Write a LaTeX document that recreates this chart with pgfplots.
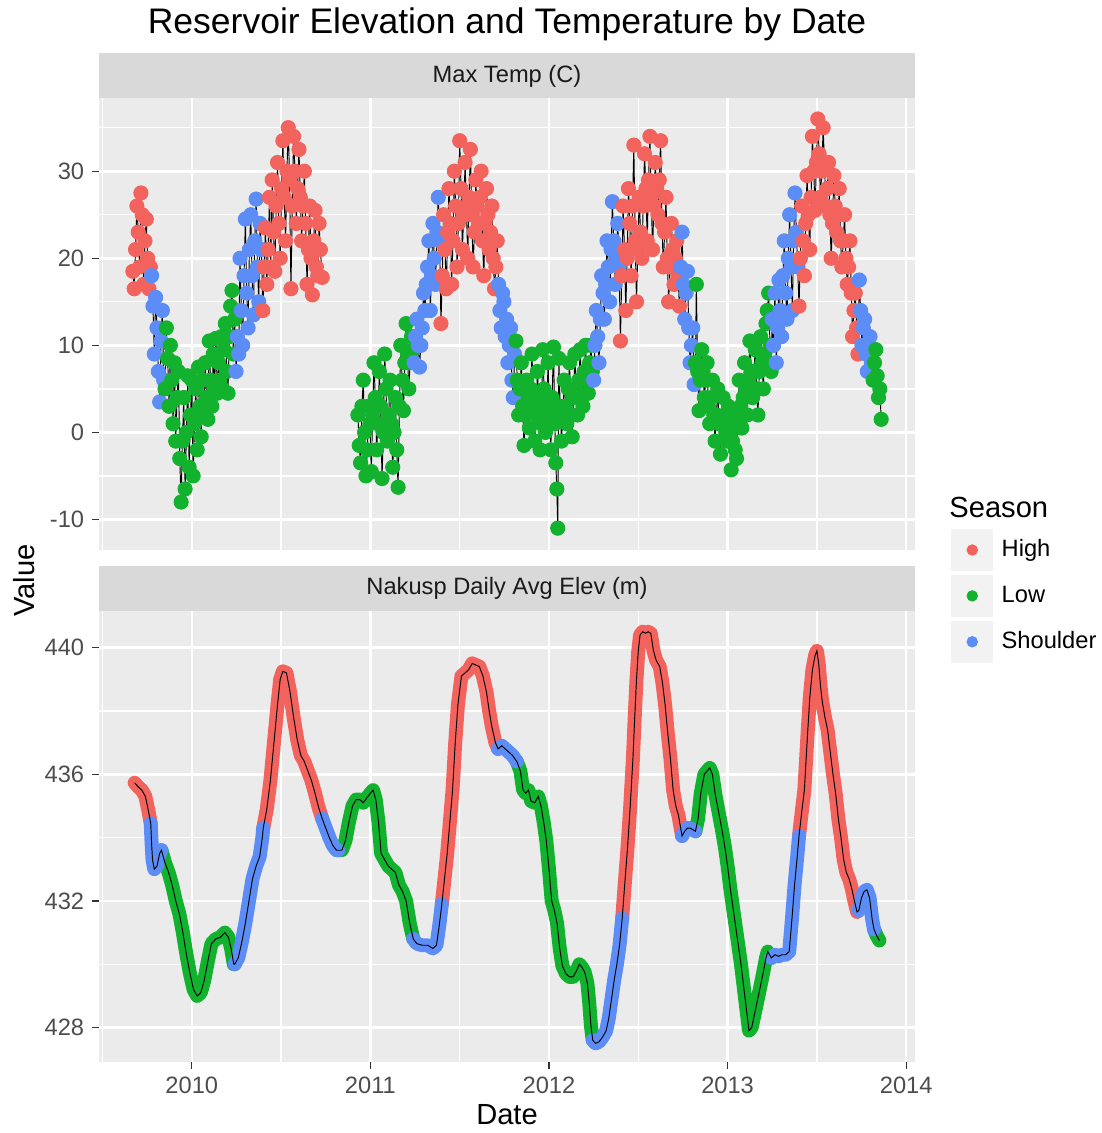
\documentclass[border=0pt]{standalone}
\usepackage{pgfplots}
\pgfplotsset{compat=1.18}
\usepackage{pgfplotstable}
\usepackage{fontspec}
\setmainfont{Liberation Sans}

\definecolor{ggred}{HTML}{F2635D}
\definecolor{gggreen}{HTML}{12B22E}
\definecolor{ggblue}{HTML}{5C8DF6}
\definecolor{panelbg}{HTML}{EBEBEB}
\definecolor{stripbg}{HTML}{D9D9D9}
\definecolor{keybg}{HTML}{F2F2F2}
\definecolor{gray30}{HTML}{4D4D4D}
\definecolor{gray20}{HTML}{333333}
\definecolor{gray10}{HTML}{1A1A1A}

% Max temperature (C): x = date (decimal year), y = value, s = season
\pgfplotstableread{
x y s
2009.6700 18.5 H
2009.6775 16.5 H
2009.6850 21 H
2009.6925 26 H
2009.7000 23 H
2009.7075 19 H
2009.7150 27.5 H
2009.7225 25 H
2009.7300 17 H
2009.7375 22 H
2009.7450 24.5 H
2009.7525 20 H
2009.7600 16.5 H
2009.7675 19 H
2009.7750 18 S
2009.7825 14.5 S
2009.7900 9 S
2009.7975 15.5 S
2009.8050 12 S
2009.8125 7 S
2009.8200 3.5 S
2009.8275 10.5 S
2009.8350 14 S
2009.8425 6 S
2009.8500 5 L
2009.8575 12 L
2009.8650 8.5 L
2009.8725 3 L
2009.8800 10 L
2009.8875 6 L
2009.8950 1 L
2009.9025 8 L
2009.9100 -1 L
2009.9175 4 L
2009.9250 7 L
2009.9325 -3 L
2009.9400 -8 L
2009.9475 -1 L
2009.9550 4 L
2009.9625 -6.5 L
2009.9700 0 L
2009.9775 6.5 L
2009.9850 -4 L
2009.9925 2 L
2010.0000 6 L
2010.0075 -5 L
2010.0150 1 L
2010.0225 5 L
2010.0300 -2 L
2010.0375 7.5 L
2010.0450 3 L
2010.0525 -0.5 L
2010.0600 6 L
2010.0675 2 L
2010.0750 8 L
2010.0825 4 L
2010.0900 1.5 L
2010.0975 10.5 L
2010.1050 6 L
2010.1125 3 L
2010.1200 9 L
2010.1275 5 L
2010.1350 10.8 L
2010.1425 4.5 L
2010.1500 8 L
2010.1575 6 L
2010.1650 11 L
2010.1725 5 L
2010.1800 9.5 L
2010.1875 12.5 L
2010.1950 7 L
2010.2025 4.5 L
2010.2100 11 L
2010.2175 14.5 L
2010.2250 16.3 L
2010.2325 9 L
2010.2400 13 L
2010.2475 7 S
2010.2550 11 S
2010.2625 9 S
2010.2700 20 S
2010.2775 14 S
2010.2850 10 S
2010.2925 18 S
2010.3000 24.5 S
2010.3075 16 S
2010.3150 12 S
2010.3225 21 S
2010.3300 25 S
2010.3375 18 S
2010.3450 13.5 S
2010.3525 22 S
2010.3600 26.8 S
2010.3675 19 S
2010.3750 15 S
2010.3825 24 S
2010.3900 21 S
2010.3975 14 H
2010.4050 19 H
2010.4125 23.5 H
2010.4200 17 H
2010.4275 21 H
2010.4350 27 H
2010.4425 19 H
2010.4500 29 H
2010.4575 23 H
2010.4650 18.5 H
2010.4725 26 H
2010.4800 31 H
2010.4875 24 H
2010.4950 20 H
2010.5025 28 H
2010.5100 33.5 H
2010.5175 27 H
2010.5250 22 H
2010.5325 30 H
2010.5400 35 H
2010.5475 29 H
2010.5550 16.5 H
2010.5625 26 H
2010.5700 34 H
2010.5775 30 H
2010.5850 24 H
2010.5925 28 H
2010.6000 32.5 H
2010.6075 27 H
2010.6150 22 H
2010.6225 26 H
2010.6300 30 H
2010.6375 24 H
2010.6450 17 H
2010.6525 21 H
2010.6600 26 H
2010.6675 20 H
2010.6750 15.8 H
2010.6825 22 H
2010.6900 25.5 H
2010.6975 19 H
2010.7050 18 H
2010.7125 24 H
2010.7200 21 H
2010.7300 17.8 H
2010.8300 nan L
2010.9300 2 L
2010.9375 -1.5 L
2010.9450 -3.5 L
2010.9525 3 L
2010.9600 6 L
2010.9675 0 L
2010.9750 -5 L
2010.9825 -2 L
2010.9900 3 L
2010.9975 1 L
2011.0050 -4.5 L
2011.0125 2 L
2011.0200 8 L
2011.0275 4 L
2011.0350 -2 L
2011.0425 1 L
2011.0500 7 L
2011.0575 3 L
2011.0650 -5.3 L
2011.0725 0 L
2011.0800 9 L
2011.0875 5 L
2011.0950 -1 L
2011.1025 2 L
2011.1100 6 L
2011.1175 1 L
2011.1250 -4 L
2011.1325 0 L
2011.1400 4 L
2011.1475 -2 L
2011.1550 -6.3 L
2011.1625 3 L
2011.1700 10 L
2011.1775 6 L
2011.1850 2.5 L
2011.1925 8 L
2011.2000 12.5 L
2011.2075 9 L
2011.2150 5 L
2011.2225 8 L
2011.2300 11 L
2011.2375 9.5 L
2011.2450 8 S
2011.2525 11 S
2011.2600 13 S
2011.2675 10 S
2011.2750 7.5 S
2011.2825 10 S
2011.2900 12 S
2011.2975 16 S
2011.3050 14 S
2011.3125 17 S
2011.3200 19 S
2011.3275 22 S
2011.3350 14 S
2011.3425 18 S
2011.3500 24 S
2011.3575 20 S
2011.3650 17 S
2011.3725 23 S
2011.3800 27 S
2011.3875 22 S
2011.3950 12.5 H
2011.4025 18 H
2011.4100 25 H
2011.4175 21 H
2011.4250 16.5 H
2011.4325 23 H
2011.4400 28 H
2011.4475 24 H
2011.4550 17 H
2011.4625 22 H
2011.4700 30 H
2011.4775 26 H
2011.4850 19 H
2011.4925 24 H
2011.5000 33.5 H
2011.5075 28 H
2011.5150 21 H
2011.5225 25 H
2011.5300 31 H
2011.5375 26 H
2011.5450 20 H
2011.5525 27 H
2011.5600 32.5 H
2011.5675 25 H
2011.5750 19 H
2011.5825 23 H
2011.5900 29 H
2011.5975 26 H
2011.6050 24 H
2011.6125 27 H
2011.6200 30 H
2011.6275 22 H
2011.6350 18 H
2011.6425 24 H
2011.6500 28 H
2011.6575 25 H
2011.6650 21 H
2011.6725 23 H
2011.6800 26 H
2011.6875 20 H
2011.6950 16.5 H
2011.7025 19 H
2011.7100 22 H
2011.7175 17 S
2011.7250 14 S
2011.7325 12 S
2011.7400 16 S
2011.7475 15 S
2011.7550 11 S
2011.7625 13 S
2011.7700 8 S
2011.7775 10 S
2011.7850 12 S
2011.7925 6 S
2011.8000 4 S
2011.8075 9 S
2011.8150 10.5 L
2011.8225 6 L
2011.8300 2 L
2011.8375 5 L
2011.8450 8 L
2011.8525 3 L
2011.8600 -1.5 L
2011.8675 2 L
2011.8750 6 L
2011.8825 4 L
2011.8900 0.5 L
2011.8975 5 L
2011.9050 9 L
2011.9125 3 L
2011.9200 -1 L
2011.9275 2 L
2011.9350 7 L
2011.9425 4 L
2011.9500 -2 L
2011.9575 1 L
2011.9650 9.5 L
2011.9725 5 L
2011.9800 0 L
2011.9875 3 L
2011.9950 8 L
2012.0025 2 L
2012.0100 -2 L
2012.0175 4 L
2012.0250 9.8 L
2012.0325 1 L
2012.0380 -3.5 L
2012.0440 -6.5 L
2012.0490 -11 L
2012.0550 8.5 L
2012.0625 3 L
2012.0700 -1 L
2012.0775 2 L
2012.0850 6 L
2012.0925 3 L
2012.1000 1 L
2012.1075 5 L
2012.1150 8 L
2012.1225 2 L
2012.1300 -0.5 L
2012.1375 4 L
2012.1450 9 L
2012.1525 5 L
2012.1600 2 L
2012.1675 6 L
2012.1750 9.5 L
2012.1825 4 L
2012.1900 3 L
2012.1975 7 L
2012.2050 10 L
2012.2125 6 L
2012.2200 4.5 L
2012.2275 8 L
2012.2350 10 L
2012.2425 7 L
2012.2500 6 S
2012.2575 10 S
2012.2650 14 S
2012.2725 11 S
2012.2800 8 S
2012.2875 13 S
2012.2950 18 S
2012.3025 16 S
2012.3100 13 S
2012.3175 17 S
2012.3250 22 S
2012.3325 19 S
2012.3400 15 S
2012.3475 21 S
2012.3550 26.5 S
2012.3625 22 S
2012.3700 17 S
2012.3775 20 S
2012.3850 24 S
2012.3925 19 S
2012.4000 10.5 H
2012.4075 18 H
2012.4150 26 H
2012.4225 21 H
2012.4300 14 H
2012.4375 20 H
2012.4450 28 H
2012.4525 24 H
2012.4600 18 H
2012.4675 26 H
2012.4750 33 H
2012.4825 22 H
2012.4900 15 H
2012.4975 21 H
2012.5050 27 H
2012.5125 23 H
2012.5200 20 H
2012.5275 26 H
2012.5350 32 H
2012.5425 28 H
2012.5500 22 H
2012.5575 29 H
2012.5650 34 H
2012.5725 27 H
2012.5800 21 H
2012.5875 26 H
2012.5950 31 H
2012.6025 28 H
2012.6100 25 H
2012.6175 29 H
2012.6250 33.5 H
2012.6325 24 H
2012.6400 19 H
2012.6475 23 H
2012.6550 27 H
2012.6625 20 H
2012.6700 15 H
2012.6775 19 H
2012.6850 24 H
2012.6925 21 H
2012.7000 17 H
2012.7075 20 H
2012.7150 22 H
2012.7225 18 H
2012.7300 14.5 H
2012.7375 19 S
2012.7450 23 S
2012.7525 17 S
2012.7600 13 S
2012.7675 16 S
2012.7750 18.5 S
2012.7825 12 S
2012.7900 8 S
2012.7975 10 S
2012.8050 12 S
2012.8125 5.5 S
2012.8200 8 L
2012.8250 17 L
2012.8325 7 L
2012.8400 2.5 L
2012.8475 6 L
2012.8550 9.5 L
2012.8625 7 L
2012.8700 4 L
2012.8775 6 L
2012.8850 8 L
2012.8925 3 L
2012.9000 1 L
2012.9075 4 L
2012.9150 6 L
2012.9225 2 L
2012.9300 -1 L
2012.9375 2 L
2012.9450 5 L
2012.9525 1 L
2012.9600 -2.5 L
2012.9675 1 L
2012.9750 4 L
2012.9825 2 L
2012.9900 0 L
2012.9975 -1 L
2013.0050 3 L
2013.0125 0 L
2013.0200 -4.3 L
2013.0275 -1 L
2013.0350 1 L
2013.0425 -2 L
2013.0500 -3 L
2013.0575 2 L
2013.0650 6 L
2013.0725 3 L
2013.0800 0.5 L
2013.0875 4 L
2013.0950 8 L
2013.1025 5 L
2013.1100 2 L
2013.1175 6 L
2013.1250 10.5 L
2013.1325 7 L
2013.1400 4 L
2013.1475 7 L
2013.1550 9.5 L
2013.1625 5 L
2013.1700 2 L
2013.1775 7 L
2013.1850 11 L
2013.1925 8 L
2013.2000 5 L
2013.2075 9 L
2013.2150 12.5 L
2013.2225 14 L
2013.2300 16 L
2013.2375 10 L
2013.2440 7 L
2013.2500 13 S
2013.2575 10 S
2013.2650 16 S
2013.2725 8 S
2013.2800 12 S
2013.2875 17.5 S
2013.2950 14 S
2013.3025 11 S
2013.3100 18 S
2013.3175 22 S
2013.3250 16 S
2013.3325 13 S
2013.3400 20 S
2013.3475 25 S
2013.3550 19 S
2013.3625 14 S
2013.3700 22 S
2013.3775 27.5 S
2013.3850 23 S
2013.3925 19 S
2013.4000 14.5 H
2013.4075 20 H
2013.4150 26 H
2013.4225 22 H
2013.4300 18 H
2013.4375 24 H
2013.4450 29.5 H
2013.4525 25 H
2013.4600 21 H
2013.4675 27 H
2013.4750 34 H
2013.4825 30 H
2013.4900 25.5 H
2013.4975 31 H
2013.5050 36 H
2013.5125 32 H
2013.5200 27 H
2013.5275 30 H
2013.5350 35 H
2013.5425 31 H
2013.5500 26 H
2013.5575 28 H
2013.5650 31 H
2013.5725 25 H
2013.5800 20 H
2013.5875 24 H
2013.5950 29.5 H
2013.6025 26 H
2013.6100 23 H
2013.6175 25 H
2013.6250 28 H
2013.6325 22 H
2013.6400 19 H
2013.6475 22 H
2013.6550 25 H
2013.6625 20 H
2013.6700 17 H
2013.6775 19 H
2013.6850 22 H
2013.6925 16 H
2013.7000 11 H
2013.7075 14 H
2013.7150 16 H
2013.7225 12 H
2013.7300 9 H
2013.7375 17.5 S
2013.7450 14 S
2013.7525 10 S
2013.7600 12 S
2013.7675 13 S
2013.7750 9 S
2013.7825 7 S
2013.7900 10 S
2013.7975 11 S
2013.8050 8 S
2013.8150 6 L
2013.8225 8 L
2013.8300 9.5 L
2013.8375 6.5 L
2013.8450 4 L
2013.8525 5 L
2013.8600 1.5 L
}\tempdata

% Nakusp daily average elevation (m): s = 0 High, 1 Low, 2 Shoulder
\pgfplotstableread{
x y s
2009.680 435.73 0
2009.700 435.6 0
2009.720 435.5 0
2009.740 435.3 0
2009.755 434.9 0
2009.770 434.45 0
2009.770 434.45 2
2009.775 433.8 2
2009.780 433.3 2
2009.790 433.0 2
2009.805 433.1 2
2009.820 433.5 2
2009.830 433.6 2
2009.830 433.6 1
2009.850 433.2 1
2009.870 432.9 1
2009.890 432.5 1
2009.910 432.0 1
2009.930 431.6 1
2009.950 431.0 1
2009.970 430.3 1
2009.990 429.7 1
2010.010 429.2 1
2010.030 429.0 1
2010.050 429.1 1
2010.070 429.5 1
2010.090 430.1 1
2010.110 430.65 1
2010.135 430.8 1
2010.160 430.85 1
2010.185 431.0 1
2010.205 430.85 1
2010.220 430.5 1
2010.235 430.0 1
2010.240 430.0 1
2010.240 430.0 2
2010.260 430.2 2
2010.280 430.7 2
2010.300 431.3 2
2010.320 432.0 2
2010.340 432.7 2
2010.360 433.1 2
2010.380 433.4 2
2010.395 434.0 2
2010.400 434.3 2
2010.400 434.3 0
2010.420 434.9 0
2010.440 435.8 0
2010.460 437.0 0
2010.480 438.2 0
2010.495 439.0 0
2010.510 439.25 0
2010.530 439.2 0
2010.550 438.6 0
2010.570 437.8 0
2010.590 437.1 0
2010.610 436.6 0
2010.630 436.4 0
2010.650 436.1 0
2010.670 435.8 0
2010.690 435.4 0
2010.710 434.95 0
2010.730 434.6 0
2010.730 434.6 2
2010.750 434.3 2
2010.770 434.0 2
2010.790 433.75 2
2010.810 433.6 2
2010.820 433.6 2
2010.820 433.6 1
2010.840 433.6 1
2010.860 433.9 1
2010.880 434.5 1
2010.900 435.0 1
2010.920 435.2 1
2010.940 435.2 1
2010.960 435.1 1
2010.980 435.25 1
2011.000 435.4 1
2011.015 435.5 1
2011.030 435.2 1
2011.045 434.5 1
2011.060 433.5 1
2011.080 433.3 1
2011.100 433.1 1
2011.120 433.0 1
2011.140 432.9 1
2011.160 432.5 1
2011.180 432.3 1
2011.200 432.0 1
2011.220 431.3 1
2011.240 430.8 1
2011.240 430.8 2
2011.260 430.65 2
2011.290 430.6 2
2011.320 430.6 2
2011.350 430.5 2
2011.370 430.6 2
2011.385 431.2 2
2011.400 431.9 2
2011.400 431.9 0
2011.415 432.7 0
2011.430 433.5 0
2011.445 434.5 0
2011.460 435.5 0
2011.475 437.0 0
2011.490 438.2 0
2011.510 439.1 0
2011.530 439.2 0
2011.550 439.3 0
2011.570 439.5 0
2011.590 439.45 0
2011.610 439.4 0
2011.630 439.1 0
2011.650 438.6 0
2011.665 438.0 0
2011.680 437.5 0
2011.700 437.0 0
2011.715 436.8 0
2011.715 436.8 2
2011.735 436.9 2
2011.755 436.8 2
2011.775 436.7 2
2011.795 436.6 2
2011.820 436.4 2
2011.820 436.4 1
2011.840 436.1 1
2011.855 435.5 1
2011.870 435.4 1
2011.885 435.5 1
2011.900 435.15 1
2011.920 435.1 1
2011.940 435.3 1
2011.955 435.0 1
2011.970 434.5 1
2011.985 433.9 1
2012.000 433.0 1
2012.015 432.0 1
2012.030 431.7 1
2012.045 431.3 1
2012.060 430.5 1
2012.075 429.95 1
2012.095 429.7 1
2012.115 429.6 1
2012.135 429.6 1
2012.155 429.8 1
2012.170 430.0 1
2012.185 429.9 1
2012.200 429.75 1
2012.215 429.4 1
2012.225 428.8 1
2012.235 428.05 1
2012.245 427.6 1
2012.245 427.6 2
2012.260 427.5 2
2012.280 427.55 2
2012.300 427.7 2
2012.320 427.9 2
2012.335 428.3 2
2012.350 428.9 2
2012.365 429.5 2
2012.380 430.0 2
2012.395 430.6 2
2012.410 431.45 2
2012.410 431.45 0
2012.425 432.6 0
2012.440 433.7 0
2012.455 435.0 0
2012.470 436.5 0
2012.480 437.8 0
2012.490 439.0 0
2012.500 439.9 0
2012.510 440.4 0
2012.525 440.5 0
2012.540 440.45 0
2012.555 440.5 0
2012.570 440.45 0
2012.585 439.9 0
2012.600 439.6 0
2012.620 439.4 0
2012.635 438.9 0
2012.650 438.2 0
2012.665 437.3 0
2012.680 436.5 0
2012.695 435.5 0
2012.710 435.0 0
2012.725 434.7 0
2012.745 434.05 0
2012.745 434.05 2
2012.760 434.2 2
2012.775 434.3 2
2012.790 434.3 2
2012.805 434.25 2
2012.820 434.2 2
2012.820 434.2 1
2012.835 434.6 1
2012.850 435.4 1
2012.870 436.0 1
2012.885 436.1 1
2012.900 436.2 1
2012.915 436.0 1
2012.930 435.4 1
2012.950 434.8 1
2012.970 434.2 1
2012.985 433.7 1
2013.000 433.1 1
2013.015 432.4 1
2013.030 431.8 1
2013.045 431.2 1
2013.060 430.6 1
2013.075 430.0 1
2013.090 429.3 1
2013.105 428.6 1
2013.120 427.9 1
2013.135 428.0 1
2013.150 428.4 1
2013.165 428.8 1
2013.180 429.2 1
2013.200 429.75 1
2013.215 430.2 1
2013.225 430.4 1
2013.245 430.2 1
2013.245 430.2 2
2013.265 430.3 2
2013.285 430.25 2
2013.305 430.3 2
2013.325 430.3 2
2013.345 430.4 2
2013.360 431.4 2
2013.375 432.5 2
2013.390 433.4 2
2013.400 434.05 2
2013.400 434.05 0
2013.415 434.8 0
2013.430 435.5 0
2013.445 437.0 0
2013.460 438.4 0
2013.475 439.3 0
2013.490 439.75 0
2013.500 439.9 0
2013.510 439.5 0
2013.520 438.8 0
2013.530 438.3 0
2013.545 437.8 0
2013.560 437.4 0
2013.575 436.7 0
2013.590 436.0 0
2013.605 435.4 0
2013.620 434.6 0
2013.635 434.0 0
2013.650 433.3 0
2013.665 432.9 0
2013.680 432.7 0
2013.695 432.4 0
2013.710 432.0 0
2013.725 431.65 0
2013.735 431.7 0
2013.735 431.7 2
2013.750 432.1 2
2013.765 432.3 2
2013.780 432.35 2
2013.795 432.1 2
2013.810 431.4 2
2013.820 431.1 2
2013.820 431.1 1
2013.835 430.9 1
2013.850 430.75 1
}\elevdata

\pgfplotsset{
  ggpanel/.style={
    scale only axis, width=344.8pt, height=190.9pt,
    xmin=2009.48, xmax=2014.05,
    axis background/.style={fill=panelbg},
    axis line style={draw=none},
    grid=both,
    major grid style={white, line width=1.1pt},
    minor grid style={white, line width=0.55pt},
    xtick={2010,2011,2012,2013,2014},
    minor xtick={2009.5,2010.5,2011.5,2012.5,2013.5},
    tick align=outside, tick pos=left,
    major tick length=2.75pt, minor tick length=0pt,
    tick style={gray20, line width=0.55pt},
    ticklabel style={font=\fontsize{10pt}{12pt}\selectfont, text=gray30},
    unbounded coords=jump,
  },
}

\begin{document}
\begin{tikzpicture}[x=1pt,y=1pt]
\path (0,0) rectangle (465.47,-478.13);

% title
\node[font=\fontsize{15pt}{18pt}\selectfont, anchor=center] at (214.2,-9.8) {Reservoir Elevation and Temperature by Date};

% strips
\fill[stripbg] (41.8,-21.9) rectangle (386.6,-40.9);
\node[font=\fontsize{10pt}{12pt}\selectfont, text=gray10] at (214.2,-31.6) {Max Temp (C)};
\fill[stripbg] (41.8,-238.4) rectangle (386.6,-257.4);
\node[font=\fontsize{10pt}{12pt}\selectfont, text=gray10] at (214.2,-248.1) {Nakusp Daily Avg Elev (m)};

% top panel: temperature
\begin{axis}[ggpanel, at={(41.8pt,-40.9pt)}, anchor=north west,
  ymin=-13.5, ymax=38.4,
  ytick={-10,0,10,20,30}, yticklabels={-10,0,10,20,30},
  minor ytick={-5,5,15,25,35},
  xticklabels={}, x tick style={draw=none},
]
\addplot[scatter, only marks, scatter src=explicit symbolic, mark size=3.0pt,
  scatter/classes={H={mark=*,ggred}, L={mark=*,gggreen}, S={mark=*,ggblue}}, forget plot]
  table[x=x, y=y, meta=s] {\tempdata};
\addplot[black, line width=0.4pt, forget plot] table[x=x, y=y] {\tempdata};
\end{axis}

% bottom panel: elevation
\begin{axis}[ggpanel, at={(41.8pt,-257.4pt)}, anchor=north west,
  ymin=426.9, ymax=441.17,
  ytick={428,432,436,440}, yticklabels={428,432,436,440},
  minor ytick={430,434,438},
  xticklabels={2010,2011,2012,2013,2014},
  legend image code/.code={
    \fill[keybg] (0pt,-8.64pt) rectangle (17.28pt,8.64pt);
    \fill (8.64pt,0pt) circle (2.2pt);
  },
  legend style={draw=none, fill=none, at={(1.0438,1.1813)}, anchor=north west,
    inner sep=0pt, row sep=1.7pt, nodes={inner sep=0pt},
    font=\fontsize{10pt}{12pt}\selectfont, text=black,
    /tikz/every odd column/.append style={column sep=3.6pt}},
  legend cell align=left,
]
\addlegendimage{ggred}\addlegendentry{High}
\addlegendimage{gggreen}\addlegendentry{Low}
\addlegendimage{ggblue}\addlegendentry{Shoulder}
\addplot[ggred, line width=5.9pt, line cap=round, line join=round, forget plot,
  restrict expr to domain={\thisrow{s}}{-0.5:0.5}] table[x=x, y=y] {\elevdata};
\addplot[gggreen, line width=5.9pt, line cap=round, line join=round, forget plot,
  restrict expr to domain={\thisrow{s}}{0.5:1.5}] table[x=x, y=y] {\elevdata};
\addplot[ggblue, line width=5.9pt, line cap=round, line join=round, forget plot,
  restrict expr to domain={\thisrow{s}}{1.5:2.5}] table[x=x, y=y] {\elevdata};
\addplot[black, line width=0.4pt, forget plot] table[x=x, y=y] {\elevdata};
\end{axis}

% axis titles and legend title
\node[font=\fontsize{12.3pt}{14pt}\selectfont, rotate=90] at (10.1,-244.8) {Value};
\node[font=\fontsize{12.3pt}{14pt}\selectfont] at (214.2,-470.3) {Date};
\node[font=\fontsize{12.3pt}{14pt}\selectfont, anchor=west, inner sep=0pt] at (400.9,-213.9) {Season};
\end{tikzpicture}
\end{document}
